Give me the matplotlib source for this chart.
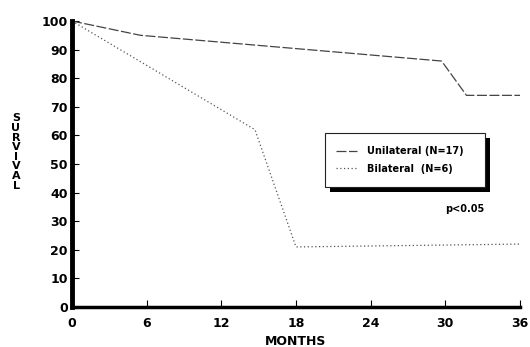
import matplotlib
matplotlib.use("Agg")
import matplotlib.pyplot as plt
from matplotlib.patches import Rectangle
from matplotlib.transforms import IdentityTransform

months_uni = [0, 5.5, 29.7, 31.7, 36]
surv_uni = [100, 95, 86, 74, 74]
months_bil = [0, 14.7, 18, 36]
surv_bil = [100, 62, 21, 22]
xticks = [0, 6, 12, 18, 24, 30, 36]
yticks = [0, 10, 20, 30, 40, 50, 60, 70, 80, 90, 100]
labels = ["Unilateral (N=17)", "Bilateral  (N=6)"]

plt.rcParams['font.family'] = ['DejaVu Sans']
plt.rcParams['font.weight'] = 'bold'

fig = plt.figure(figsize=(5.3, 3.47), dpi=100)
ax = fig.add_axes([72/530, 40/347, 448/530, 286/347])

l1, = ax.plot(months_uni, surv_uni, color='#444444', lw=0.9, dashes=(8, 2))
l2, = ax.plot(months_bil, surv_bil, color='#555555', lw=0.9, dashes=(1, 2))

ax.set_xlim(0, 36)
ax.set_ylim(0, 100)
ax.set_xticks(xticks)
ax.set_yticks(yticks)
ax.tick_params(direction='in', length=5, width=0.8, labelsize=9)
ax.tick_params(axis='x', pad=7)
ax.tick_params(axis='y', pad=3)
for t in ax.get_xticklabels() + ax.get_yticklabels():
    t.set_fontweight('bold')
ax.spines['top'].set_visible(False)
ax.spines['right'].set_visible(False)
ax.spines['left'].set_linewidth(3.5)
ax.spines['bottom'].set_linewidth(2.5)

ax.set_xlabel("MONTHS", fontsize=9, fontweight='bold', labelpad=4)
fig.text(16/530, 1 - 152/347, "S\nU\nR\nV\nI\nV\nA\nL", ha='center', va='center',
         fontsize=8, fontweight='bold', linespacing=0.95)

# legend box with shadow
x0, x1 = 0.565, 0.922
y0, y1 = 0.42, 0.608
ax.add_patch(Rectangle((x0 + 0.012, y0 - 0.018), x1 - x0, y1 - y0, transform=ax.transAxes,
                       facecolor='black', edgecolor='none', zorder=4, clip_on=False))
ax.add_patch(Rectangle((x0, y0), x1 - x0, y1 - y0, transform=ax.transAxes,
                       facecolor='white', edgecolor='#222222', lw=0.8, zorder=5, clip_on=False))
leg = ax.legend([l1, l2], labels, loc='center left', bbox_to_anchor=(x0 + 0.005, (y0 + y1) / 2),
                frameon=False, handlelength=2.2, labelspacing=0.8, handletextpad=1.0,
                prop={'weight': 'bold', 'size': 7})
leg.set_zorder(6)

p = ax.text(0, 0, "p<0.05", fontsize=7, fontweight='bold', ha='left', va='center')
p.set_transform(IdentityTransform())
p.set_position((445, 347 - 209))

fig.savefig("out.png", dpi=100)
